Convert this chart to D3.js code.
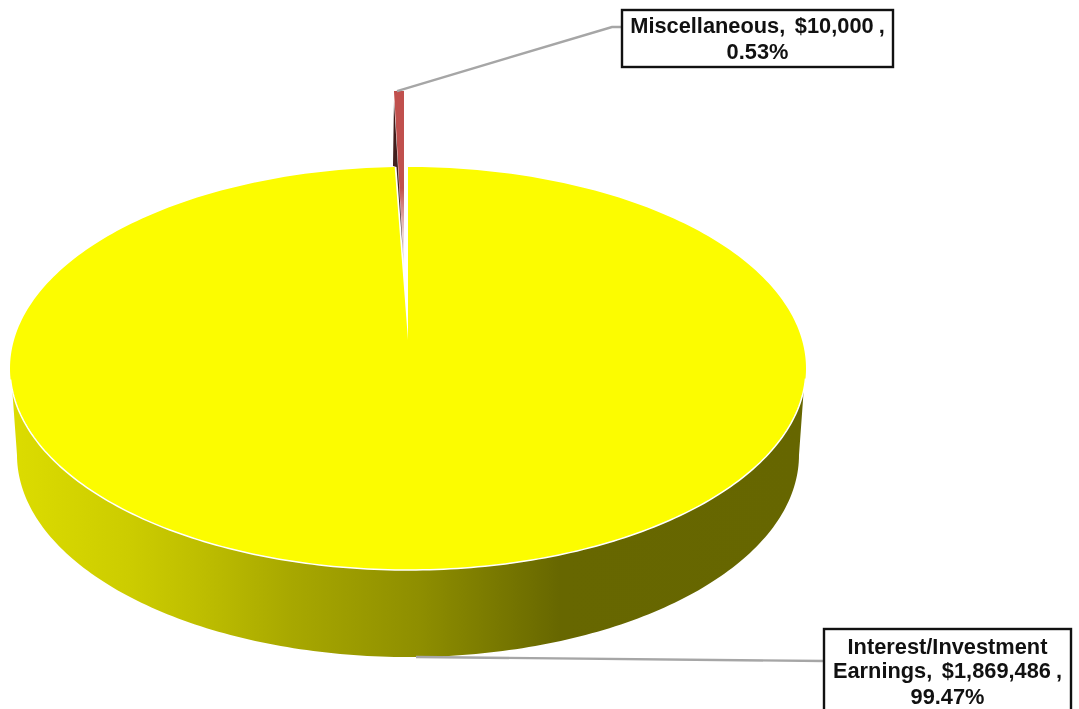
<!DOCTYPE html>
<html><head><meta charset="utf-8">
<script src="https://cdn.jsdelivr.net/npm/d3@7"></script>
<style>html,body{margin:0;padding:0;background:#fff;overflow:hidden}svg{display:block;filter:blur(0.45px)}text{font-family:"Liberation Sans",Arial,sans-serif;font-weight:700;fill:#111;word-spacing:3.5px}tspan{word-spacing:-1px}</style>
</head><body>
<svg id="c" width="1079" height="709"></svg>
<script>
const categories = ["Interest/Investment Earnings", "Miscellaneous"];
const values = [1869486, 10000];
const percents = ["99.47%", "0.53%"];
const labelLines = [
  ["Interest/Investment", "Earnings, $1,869,486 ,", "99.47%"],
  ["Miscellaneous, $10,000 ,", "0.53%"]
];
const sideStops = [[0,"#dcdc00"],[0.147,"#cccc00"],[0.236,"#bebe00"],[0.35,"#a8a800"],[0.515,"#8e8e00"],[0.693,"#676700"],[1,"#666600"]];

const svg = d3.select("#c");
const defs = svg.append("defs");
const g1 = defs.append("linearGradient").attr("id","side").attr("gradientUnits","userSpaceOnUse")
  .attr("x1",14).attr("x2",802).attr("y1",0).attr("y2",0);
sideStops.forEach(s=>g1.append("stop").attr("offset",s[0]).attr("stop-color",s[1]));
const g2 = defs.append("linearGradient").attr("id","red").attr("gradientUnits","userSpaceOnUse")
  .attr("x1",0).attr("x2",0).attr("y1",91).attr("y2",268);
[[0,"#c0504d",1],[0.55,"#c0504d",1],[0.8,"#c0504d",0.25],[1,"#c0504d",0]].forEach(s=>
  g2.append("stop").attr("offset",s[0]).attr("stop-color",s[1]).attr("stop-opacity",s[2]));
const g3 = defs.append("linearGradient").attr("id","dark").attr("gradientUnits","userSpaceOnUse")
  .attr("x1",0).attr("x2",0).attr("y1",91).attr("y2",268);
[[0,"#3a1614",0.2],[0.1,"#3a1614",1],[0.8,"#3a1614",0.9],[1,"#3a1614",0.1]].forEach(s=>
  g3.append("stop").attr("offset",s[0]).attr("stop-color",s[1]).attr("stop-opacity",s[2]));

const arcs = d3.pie().sort(null).startAngle(0).endAngle(2*Math.PI)(values);
const yellow = arcs[0], misc = arcs[1];

// projected ellipses
const face = {cx:408, cy:368.5, rx:398, ry:201.5, ax:408, ay:340};
const low = {cx:408, cy:455, rx:391, ry:202};
const pt = (e,a)=>[e.cx+e.rx*Math.sin(a), e.cy-e.ry*Math.cos(a)];
const line = d3.line();

// side wall
const sideAngles = d3.range(Math.PI/2, 3*Math.PI/2+1e-6, Math.PI/180);
const rimRight = [face.cx+Math.sqrt(1-Math.pow(21.5/face.ry,2))*face.rx, face.cy+21.5];
const rimLeft = [2*face.cx-rimRight[0], rimRight[1]];
svg.append("path").attr("d", line([rimRight, ...sideAngles.map(a=>pt(low,a)), rimLeft])+"Z").attr("fill","url(#side)");

// yellow top face
const yAngles = d3.range(yellow.startAngle, yellow.endAngle, Math.PI/180).concat([yellow.endAngle]);
const yPts = [[face.ax,face.ay], ...yAngles.map(a=>pt(face,a))];
svg.append("path").attr("d", line(yPts)+"Z").attr("fill","#fcfc00");
// white rim along the front edge
const frontAngles = d3.range(Math.PI/2+0.05, 3*Math.PI/2-0.05, Math.PI/180);
svg.append("path").attr("d", line(frontAngles.map(a=>pt(face,a)))).attr("fill","none").attr("stroke","#fff").attr("stroke-width",1.5);

// exploded miscellaneous slice
const mc = {cx:404, cy:268, rx:300, ry:177};
const mA = pt(mc, misc.startAngle), mB = pt(mc, misc.endAngle);
svg.append("path").attr("d", line([[mc.cx,mc.cy], mA, mB])+"Z").attr("fill","url(#red)");
const depth = 75;
svg.append("path").attr("d", line([[mA[0],mA[1]+10],[mA[0]-1,mA[1]+depth],[mA[0]+2.5,mA[1]+depth+1],[mc.cx,mc.cy]])+"Z").attr("fill","url(#dark)");

// leaders
const leader = (d)=>svg.append("path").attr("d",line(d)).attr("fill","none").attr("stroke","#a6a6a6").attr("stroke-width",2.4);
leader([[(mA[0]+mB[0])/2-2,mA[1]],[612,27],[622,27]]);
leader([[pt(low,Math.PI)[0]+8,pt(low,Math.PI)[1]],[824,661]]);

// label boxes
const boxes = [
  {x:824,y:629,w:247,h:100,base:[654,678,704],mid:947.5},
  {x:622,y:10,w:271,h:57,base:[33,59],mid:757.5}
];
boxes.forEach((b,i)=>{
  svg.append("rect").attr("x",b.x).attr("y",b.y).attr("width",b.w).attr("height",b.h)
    .attr("fill","#fff").attr("stroke","#111").attr("stroke-width",2.4);
  labelLines[i].forEach((d,j)=>{
    const t = svg.append("text").attr("x",b.mid).attr("y",b.base[j]).attr("text-anchor","middle").attr("font-size",21.8);
    if (d.endsWith(" ,")) {
      t.text(d.slice(0,-2));
      t.append("tspan").text(" ,");
    } else t.text(d);
  });
});
</script>
</body></html>
